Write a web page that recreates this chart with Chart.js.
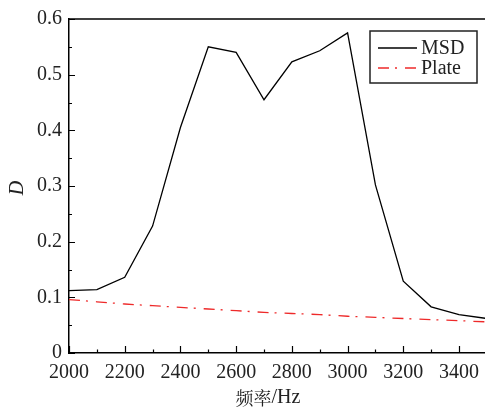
<!DOCTYPE html>
<html>
<head>
<meta charset="utf-8">
<title>D vs frequency</title>
<script src="https://cdn.jsdelivr.net/npm/chart.js@4"></script>
<style>
  html, body { margin: 0; padding: 0; background: #fff; overflow: hidden; }
  #wrap { width: 487px; height: 410px; position: relative; }
  #warm { position: absolute; left: 0; top: 420px; font-size: 20px; color: #fff; white-space: nowrap; }
</style>
</head>
<body>
<div id="wrap"><canvas id="c"></canvas></div>
<!-- touch the fonts once in the DOM so canvas text picks them up -->
<div id="warm"><span style="font-family:'Liberation Serif'">0123456789. MSD Plate Hz</span>
<i style="font-family:'Liberation Serif'">D</i>
<span style="font-family:'Noto Serif CJK SC'">频率</span></div>
<script>
// frequency (Hz) and D for the two structures
const freqs = [2000, 2100, 2200, 2300, 2400, 2500, 2600, 2700, 2800, 2900, 3000, 3100, 3200, 3300, 3400, 3500];
const msd   = [0.112, 0.114, 0.136, 0.228, 0.405, 0.550, 0.540, 0.455, 0.523, 0.543, 0.575, 0.302, 0.129, 0.083, 0.069, 0.062];
const plate = [0.096, 0.092, 0.088, 0.085, 0.082, 0.079, 0.076, 0.073, 0.071, 0.069, 0.066, 0.064, 0.062, 0.060, 0.058, 0.056];

const xTicks = [2000, 2200, 2400, 2600, 2800, 3000, 3200, 3400];
const yTicks = [0, 0.1, 0.2, 0.3, 0.4, 0.5, 0.6];

const SERIF = "'Liberation Serif'";
const CJK = "'Noto Serif CJK SC'";
const INK = '#222';

function pts(ys) {
  return freqs.map((f, i) => ({ x: f, y: ys[i] }));
}

// inward ticks, top frame line, axis titles and boxed legend
const frame = {
  id: 'frame',
  afterDraw(chart) {
    const { ctx, chartArea: a, scales } = chart;
    const xs = scales.x, ys = scales.y;
    ctx.save();
    ctx.strokeStyle = '#000';
    ctx.lineWidth = 1.5;
    ctx.beginPath();
    ctx.moveTo(a.left - 0.75, a.top);
    ctx.lineTo(a.right + 2, a.top);
    ctx.stroke();

    ctx.lineWidth = 1.2;
    ctx.beginPath();
    for (let v = 2000; v <= 3500; v += 100) {
      const px = Math.round(xs.getPixelForValue(v)) + 0.5;
      const len = (v % 200 === 0) ? 7 : 3.5;
      ctx.moveTo(px, a.bottom);
      ctx.lineTo(px, a.bottom - len);
    }
    for (let k = 0; k <= 12; k++) {
      const v = k * 0.05;
      const py = Math.round(ys.getPixelForValue(v)) + 0.5;
      const len = (k % 2 === 0) ? 6 : 3;
      ctx.moveTo(a.left, py);
      ctx.lineTo(a.left + len, py);
    }
    ctx.stroke();

    // axis titles: CJK part, then the unit in serif
    ctx.fillStyle = INK;
    ctx.textBaseline = 'middle';
    ctx.textAlign = 'left';
    ctx.font = '18px ' + CJK;
    const han = '频率';
    const hw = ctx.measureText(han).width;
    ctx.font = '20px ' + SERIF;
    const unit = '/Hz';
    const uw = ctx.measureText(unit).width;
    const x0 = 268 - (hw + uw) / 2;
    ctx.font = '18px ' + CJK;
    ctx.fillText(han, x0, 398);
    ctx.font = '20px ' + SERIF;
    ctx.fillText(unit, x0 + hw, 398);

    ctx.save();
    ctx.translate(18, 188);
    ctx.rotate(-Math.PI / 2);
    ctx.textAlign = 'center';
    ctx.font = 'italic 20px ' + SERIF;
    ctx.fillText('D', 0, 0);
    ctx.restore();

    // legend
    const bx = 370, by = 31, bw = 107, bh = 52;
    ctx.fillStyle = '#fff';
    ctx.fillRect(bx, by, bw, bh);
    ctx.strokeStyle = '#222';
    ctx.lineWidth = 1.5;
    ctx.strokeRect(bx, by, bw, bh);
    ctx.textAlign = 'left';
    ctx.font = '20px ' + SERIF;
    chart.data.datasets.forEach((ds, i) => {
      const ly = by + 17 + i * 20;
      ctx.strokeStyle = ds.borderColor;
      ctx.lineWidth = ds.borderWidth;
      ctx.setLineDash(ds.borderDash || []);
      ctx.beginPath();
      ctx.moveTo(bx + 8, ly);
      ctx.lineTo(bx + 47, ly);
      ctx.stroke();
      ctx.setLineDash([]);
      ctx.fillStyle = INK;
      ctx.fillText(ds.label, bx + 51, ly + 1);
    });
    ctx.restore();
  }
};

function draw() {
  new Chart(document.getElementById('c'), {
    type: 'line',
    data: {
      datasets: [
        {
          label: 'MSD',
          data: pts(msd),
          borderColor: '#000',
          borderWidth: 1.3,
          pointRadius: 0,
          tension: 0
        },
        {
          label: 'Plate',
          data: pts(plate),
          borderColor: '#ee2a2a',
          borderWidth: 1.3,
          borderDash: [11, 6, 2, 8],
          pointRadius: 0,
          tension: 0
        }
      ]
    },
    options: {
      responsive: true,
      maintainAspectRatio: false,
      animation: false,
      layout: { padding: { left: 0, top: 15, right: 0, bottom: 0 } },
      plugins: { legend: { display: false }, tooltip: { enabled: false } },
      scales: {
        x: {
          type: 'linear',
          min: 2000,
          max: 3500,
          afterBuildTicks: s => { s.ticks = xTicks.map(v => ({ value: v })); },
          afterFit: s => { s.height = 57; },
          grid: { display: false, drawTicks: false },
          border: { display: true, color: '#000', width: 1.5 },
          ticks: {
            color: INK,
            font: { family: SERIF, size: 20 },
            padding: 8,
            maxRotation: 0,
            autoSkip: false,
            callback: v => String(v)
          }
        },
        y: {
          min: 0,
          max: 0.6,
          afterBuildTicks: s => { s.ticks = yTicks.map(v => ({ value: v })); },
          afterFit: s => { s.width = 69; },
          grid: { display: false, drawTicks: false },
          border: { display: true, color: '#000', width: 1.5 },
          ticks: {
            color: INK,
            font: { family: SERIF, size: 20 },
            padding: 7,
            callback: v => v === 0 ? '0' : v.toFixed(1)
          }
        }
      }
    },
    plugins: [frame]
  });
}

document.body.offsetHeight;
document.fonts.ready.then(draw, draw);
</script>
</body>
</html>
